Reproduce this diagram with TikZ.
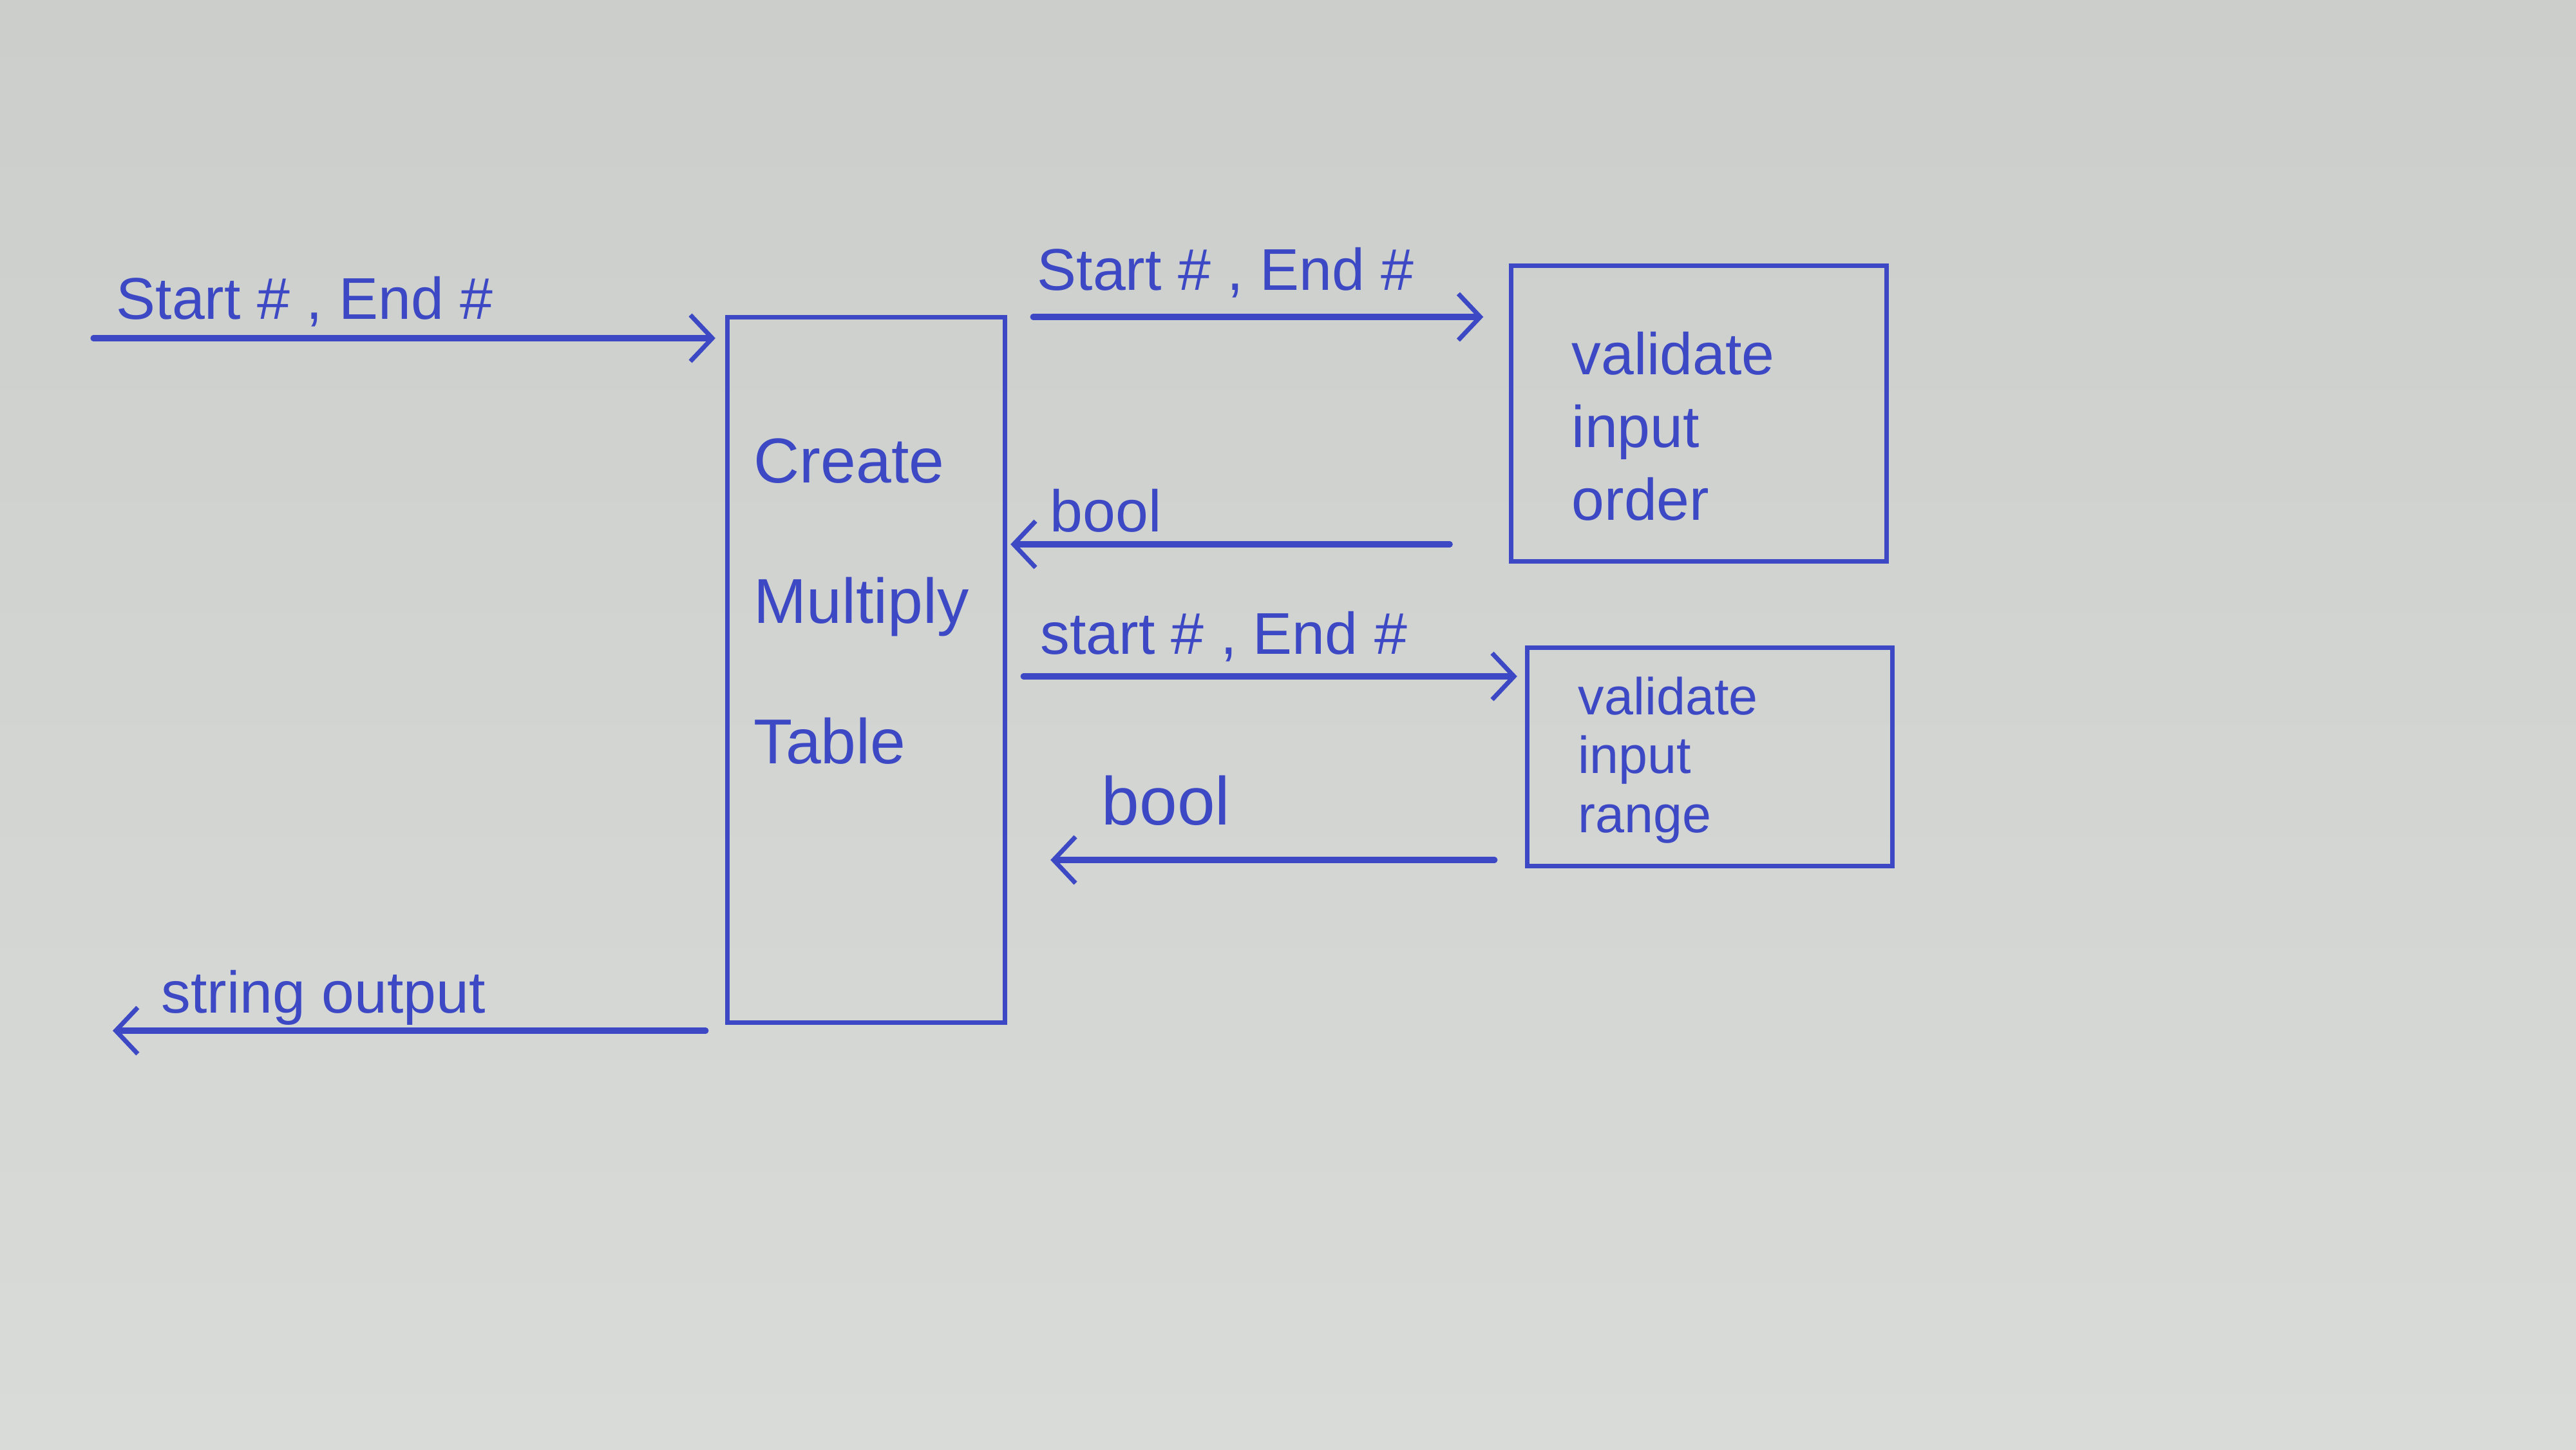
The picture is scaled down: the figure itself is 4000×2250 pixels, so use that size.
\documentclass[tikz,border=0pt]{standalone}
\usepackage{fontspec}
\setmainfont{Liberation Sans}
\usetikzlibrary{arrows.meta}
\definecolor{ink}{RGB}{60,72,196}
\definecolor{boardtop}{RGB}{203,206,203}
\definecolor{boardmid}{RGB}{228,230,228}
\definecolor{boardlow}{RGB}{217,219,216}
\begin{document}
\begin{tikzpicture}[x=0.01cm,y=-0.01cm,
  inkline/.style={draw=ink,line width=2.6pt,line cap=round},
  flow/.style={inkline,-{Straight Barb[length=0.34cm,width=0.72cm,line width=2pt]}},
  procbox/.style={draw=ink,line width=2pt,rectangle,inner sep=0pt},
  lbl/.style={text=ink,font=\fontsize{26}{30}\selectfont,inner sep=0pt},
  boxtext/.style={text=ink,align=left,inner sep=0pt}]
% board
\shade[top color=boardtop,middle color=boardmid,bottom color=boardlow] (0,0) rectangle (4000,2250);
\useasboundingbox (0,0) rectangle (4000,2250);

% processes
\node[procbox,minimum width=4.31cm,minimum height=10.95cm] (table) at (1345,1040) {};
\node[procbox,minimum width=5.82cm,minimum height=4.59cm] (order) at (2638,642) {};
\node[procbox,minimum width=5.67cm,minimum height=3.39cm] (range) at (2655,1175) {};

\node[boxtext,anchor=north west,font=\fontsize{28}{62}\selectfont] (tabletext) at (1170,680) {Create\\Multiply\\Table};
\node[boxtext,anchor=north west,font=\fontsize{26}{32}\selectfont] (ordertext) at (2440,515) {validate\\input\\order};
\node[boxtext,anchor=north west,font=\fontsize{23}{26}\selectfont] (rangetext) at (2450,1050) {validate\\input\\range};

% connector rows
\coordinate (inrow) at (145,525);
\coordinate (outrow) at (175,1600);
\coordinate (row1) at (0,492);
\coordinate (row2) at (0,845);
\coordinate (row3) at (0,1050);
\coordinate (row4) at (0,1335);

% flows
\draw[flow,shorten >=0.15cm] (inrow) -- (inrow -| table.west);
\draw[flow,shorten <=0.3cm] (table.west |- outrow) -- (outrow);
\draw[flow,shorten <=0.4cm,shorten >=0.4cm] (table.east |- row1) -- (order.west |- row1);
\draw[flow,shorten <=0.92cm,shorten >=0.05cm] (order.west |- row2) -- (table.east |- row2);
\draw[flow,shorten <=0.25cm,shorten >=0.12cm] (table.east |- row3) -- (range.west |- row3);
\draw[flow,shorten <=0.47cm,shorten >=0.67cm] (range.west |- row4) -- (table.east |- row4);

% flow labels
\node[lbl,anchor=base west] (l1) at (180,495) {Start \# , End \#};
\node[lbl,anchor=base west] (l2) at (250,1572) {string output};
\node[lbl,anchor=base west] (l3) at (1610,450) {Start \# , End \#};
\node[lbl,anchor=base west] (l4) at (1630,825) {bool};
\node[lbl,anchor=base west] (l5) at (1615,1015) {start \# , End \#};
\node[lbl,anchor=base west,font=\fontsize{30}{34}\selectfont] (l6) at (1710,1280) {bool};
\end{tikzpicture}
\end{document}
